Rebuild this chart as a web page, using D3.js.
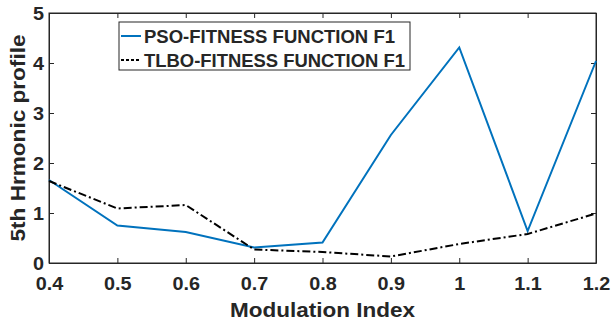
<!DOCTYPE html>
<html>
<head>
<meta charset="utf-8">
<script src="https://cdn.jsdelivr.net/npm/d3@7"></script>
<style>
  body { margin: 0; background: #fff; }
  text { font-family: "Liberation Sans", Arial, sans-serif; font-weight: bold; fill: #262626; }
</style>
</head>
<body>
<script>
// data
const modIndex = [0.4, 0.5, 0.6, 0.7, 0.8, 0.9, 1.0, 1.1, 1.2];
const psoValues = [1.66, 0.75, 0.62, 0.31, 0.41, 2.56, 4.31, 0.64, 4.04];
const tlboValues = [1.64, 1.09, 1.16, 0.27, 0.22, 0.13, 0.38, 0.58, 0.99];
const xTicks = [0.4, 0.5, 0.6, 0.7, 0.8, 0.9, 1, 1.1, 1.2];
const yTicks = [0, 1, 2, 3, 4, 5];
const seriesNames = ["PSO-FITNESS FUNCTION F1", "TLBO-FITNESS FUNCTION F1"];

const width = 611, height = 323;
const margin = { top: 13, right: 15, bottom: 60, left: 49 };

const svg = d3.select("body").append("svg")
  .attr("width", width)
  .attr("height", height);

const x = d3.scaleLinear().domain([0.4, 1.2]).range([margin.left, width - margin.right]);
const y = d3.scaleLinear().domain([0, 5]).range([height - margin.bottom, margin.top]);

// tick labels: slightly widened like the original export
const widen = sel => sel.attr("font-size", 18)
  .attr("textLength", function() { return this.getComputedTextLength() * 1.1; })
  .attr("lengthAdjust", "spacingAndGlyphs");

// axes (ticks inside, mirrored on top/right)
const tickFmt = d => String(d);
svg.append("g")
  .attr("transform", `translate(0,${y(0)})`)
  .call(d3.axisBottom(x).tickValues(xTicks).tickFormat(tickFmt).tickSizeInner(-5).tickSizeOuter(0).tickPadding(14));
svg.append("g")
  .attr("transform", `translate(0,${y(5)})`)
  .call(d3.axisTop(x).tickValues(xTicks).tickFormat("").tickSizeInner(-5).tickSizeOuter(0));
svg.append("g")
  .attr("transform", `translate(${x(0.4)},0)`)
  .call(d3.axisLeft(y).tickValues(yTicks).tickFormat(tickFmt).tickSizeInner(-5).tickSizeOuter(0).tickPadding(5))
  .call(g => g.selectAll("text").attr("dy", "0.36em"));
svg.append("g")
  .attr("transform", `translate(${x(1.2)},0)`)
  .call(d3.axisRight(y).tickValues(yTicks).tickFormat("").tickSizeInner(-5).tickSizeOuter(0));
svg.selectAll(".domain, .tick line").attr("stroke", "#262626");
svg.selectAll(".tick text").attr("fill", "#262626").attr("font-family", "Liberation Sans, Arial, sans-serif").attr("font-weight", "bold")
  .call(widen);

// box
svg.append("rect")
  .attr("x", x(0.4)).attr("y", y(5))
  .attr("width", x(1.2) - x(0.4)).attr("height", y(0) - y(5))
  .attr("fill", "none").attr("stroke", "#262626").attr("stroke-width", 1);

// lines
const line = d3.line().x(d => x(d[0])).y(d => y(d[1]));
svg.append("path")
  .datum(d3.zip(modIndex, psoValues))
  .attr("d", line)
  .attr("fill", "none").attr("stroke", "#0072BD").attr("stroke-width", 2);
svg.append("path")
  .datum(d3.zip(modIndex, tlboValues))
  .attr("d", line)
  .attr("fill", "none").attr("stroke", "#000").attr("stroke-width", 2)
  .attr("stroke-dasharray", "8,3,2,3");

// axis titles
svg.append("text")
  .attr("x", (x(0.4) + x(1.2)) / 2).attr("y", 317)
  .attr("text-anchor", "middle").attr("font-size", 21)
  .attr("textLength", 185).attr("lengthAdjust", "spacingAndGlyphs")
  .text("Modulation Index");
svg.append("text")
  .attr("transform", `translate(25,${(y(0) + y(5)) / 2}) rotate(-90)`)
  .attr("text-anchor", "middle").attr("font-size", 21)
  .attr("textLength", 207).attr("lengthAdjust", "spacingAndGlyphs")
  .text("5th Hrmonic profile");

// legend
const leg = svg.append("g");
leg.append("rect")
  .attr("x", 119).attr("y", 22).attr("width", 291).attr("height", 48)
  .attr("fill", "#fff").attr("stroke", "#262626").attr("stroke-width", 1);
const legStyles = [
  { stroke: "#0072BD", dash: null, len: 251 },
  { stroke: "#000", dash: "3,2", len: 261 }
];
seriesNames.forEach((name, i) => {
  const base = 43 + i * 24;
  leg.append("line")
    .attr("x1", 121).attr("x2", 141).attr("y1", base - 7).attr("y2", base - 7)
    .attr("stroke", legStyles[i].stroke).attr("stroke-width", 2)
    .attr("stroke-dasharray", legStyles[i].dash);
  leg.append("text")
    .attr("x", 144).attr("y", base)
    .attr("font-size", 18)
    .attr("textLength", legStyles[i].len).attr("lengthAdjust", "spacingAndGlyphs")
    .attr("fill", "#000")
    .text(name);
});
</script>
</body>
</html>
